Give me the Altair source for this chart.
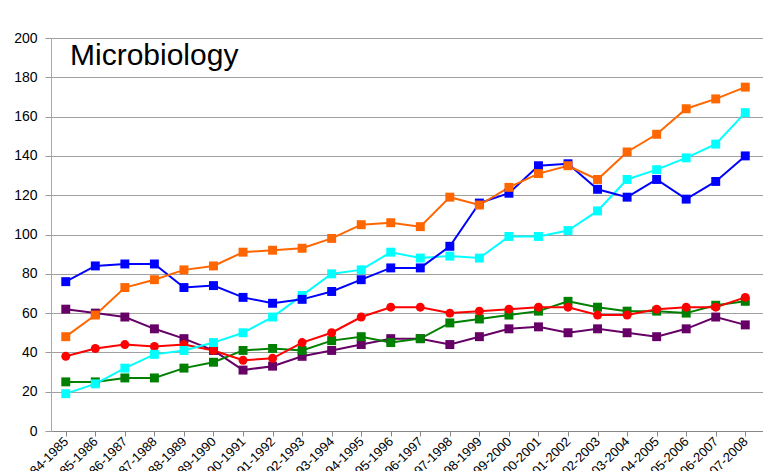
import altair as alt
import pandas as pd

periods = ["1984-1985", "1985-1986", "1986-1987", "1987-1988", "1988-1989", "1989-1990",
           "1990-1991", "1991-1992", "1992-1993", "1993-1994", "1994-1995", "1995-1996",
           "1996-1997", "1997-1998", "1998-1999", "1999-2000", "2000-2001", "2001-2002",
           "2002-2003", "2003-2004", "2004-2005", "2005-2006", "2006-2007", "2007-2008"]

orange = [48, 59, 73, 77, 82, 84, 91, 92, 93, 98, 105, 106, 104, 119, 115, 124, 131, 135, 128, 142, 151, 164, 169, 175]
blue = [76, 84, 85, 85, 73, 74, 68, 65, 67, 71, 77, 83, 83, 94, 116, 121, 135, 136, 123, 119, 128, 118, 127, 140]
cyan = [19, 24, 32, 39, 41, 45, 50, 58, 69, 80, 82, 91, 88, 89, 88, 99, 99, 102, 112, 128, 133, 139, 146, 162]
red = [38, 42, 44, 43, 44, 41, 36, 37, 45, 50, 58, 63, 63, 60, 61, 62, 63, 63, 59, 59, 62, 63, 63, 68]
green = [25, 25, 27, 27, 32, 35, 41, 42, 41, 46, 48, 45, 47, 55, 57, 59, 61, 66, 63, 61, 61, 60, 64, 66]
purple = [62, 60, 58, 52, 47, 41, 31, 33, 38, 41, 44, 47, 47, 44, 48, 52, 53, 50, 52, 50, 48, 52, 58, 54]

series_names = ["Series 1", "Series 2", "Series 3", "Series 4", "Series 5", "Series 6"]
series_values = [purple, green, red, cyan, blue, orange]
series_colors = ["#660066", "#008000", "#FF0000", "#00FFFF", "#0000FF", "#FF6600"]
series_shapes = ["square", "square", "circle", "square", "square", "square"]

rows = []
for name, vals, shp in zip(series_names, series_values, series_shapes):
    for i, (p, v) in enumerate(zip(periods, vals)):
        rows.append({"idx": i, "period": p, "series": name, "value": v, "shape": shp})
df = pd.DataFrame(rows)

label_array = "[" + ",".join("'" + p + "'" for p in periods) + "]"

x_enc = alt.X("idx:Q",
              scale=alt.Scale(domain=[-0.5, len(periods) - 0.4], nice=False, zero=False),
              axis=alt.Axis(values=list(range(len(periods))), labelExpr=label_array + "[datum.value]",
                            labelAngle=-45, labelAlign="right", labelBaseline="middle",
                            labelFontSize=13, labelColor="#000000", labelPadding=3,
                            tickSize=5, tickColor="#888888", domainColor="#888888",
                            grid=False, title=None, labelOverlap=False, labelBound=False,
                            labelFlush=False))
y_enc = alt.Y("value:Q",
              scale=alt.Scale(domain=[0, 200], nice=False),
              axis=alt.Axis(values=list(range(0, 201, 20)), labelFontSize=14, labelColor="#000000",
                            labelPadding=8, tickSize=6, tickColor="#999999", domainColor="#AAAAAA",
                            gridColor="#A0A0A0", gridWidth=1, title=None))
color_enc = alt.Color("series:N", scale=alt.Scale(domain=series_names, range=series_colors), legend=None)

base = alt.Chart(df)
lines = base.mark_line(strokeWidth=2).encode(x=x_enc, y=y_enc, color=color_enc, detail="series:N")
points = base.mark_point(filled=True, opacity=1, size=80).encode(
    x=x_enc, y=y_enc, color=color_enc,
    shape=alt.Shape("shape:N", scale=alt.Scale(domain=["square", "circle"], range=["square", "circle"]), legend=None))

title_df = pd.DataFrame({"t": ["Microbiology"]})
title = alt.Chart(title_df).mark_text(align="left", baseline="alphabetic", fontSize=30,
                                      font="Liberation Sans", color="#000000").encode(
    text="t:N", x=alt.value(19), y=alt.value(27))

chart = alt.layer(lines, points, title).properties(
    width=712, height=393,
    autosize=alt.AutoSizeParams(type="none"),
    padding={"left": 43, "top": 30, "right": 0, "bottom": 40},
).configure_view(stroke=None).configure(font="Liberation Sans")

chart.save("out.html", embed_options={"renderer": "svg", "actions": False})
